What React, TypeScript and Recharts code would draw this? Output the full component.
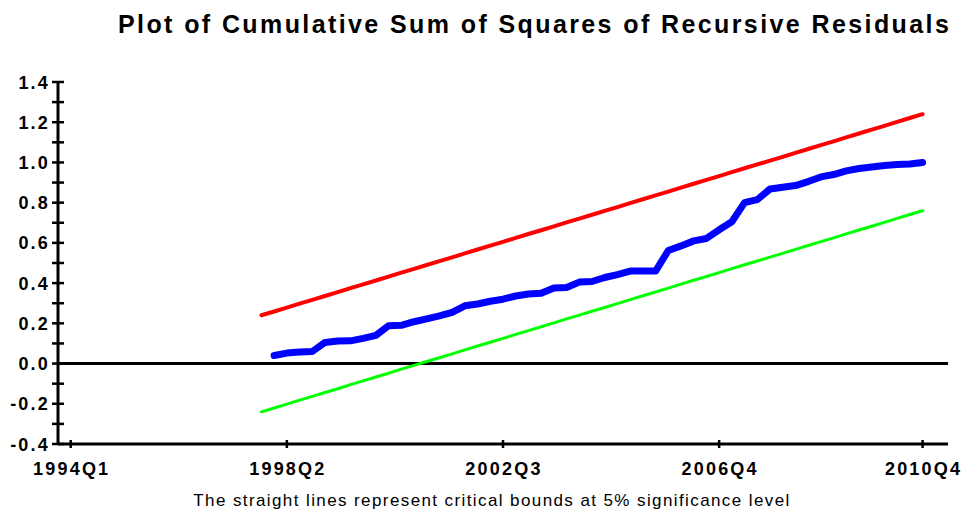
import React from 'react';
import {
  LineChart,
  Line,
  XAxis,
  YAxis,
  ReferenceLine,
} from 'recharts';

// quarters run from 1994Q1 (t = 0) to 2010Q4 (t = 67)
const quarterCount = 68;
const xTickIndex = [0, 17, 34, 51, 67];
const xTickLabels = ['1994Q1', '1998Q2', '2002Q3', '2006Q4', '2010Q4'];
const yTicks = [-0.4, -0.3, -0.2, -0.1, 0, 0.1, 0.2, 0.3, 0.4, 0.5, 0.6, 0.7, 0.8, 0.9, 1.0, 1.1, 1.2, 1.3, 1.4];

// critical bounds start at 1997Q4 (t = 15)
const boundStart = 15;
const upperBound = [
  0.240, 0.259, 0.278, 0.298, 0.317, 0.336, 0.355, 0.375, 0.394, 0.413,
  0.432, 0.452, 0.471, 0.490, 0.509, 0.528, 0.548, 0.567, 0.586, 0.605,
  0.625, 0.644, 0.663, 0.682, 0.702, 0.721, 0.740, 0.759, 0.778, 0.798,
  0.817, 0.836, 0.855, 0.875, 0.894, 0.913, 0.932, 0.952, 0.971, 0.990,
  1.009, 1.028, 1.048, 1.067, 1.086, 1.105, 1.125, 1.144, 1.163, 1.182,
  1.202, 1.221, 1.240,
];
const lowerBound = [
  -0.240, -0.221, -0.202, -0.182, -0.163, -0.144, -0.125, -0.105, -0.086, -0.067,
  -0.048, -0.028, -0.009, 0.010, 0.029, 0.048, 0.068, 0.087, 0.106, 0.125,
  0.145, 0.164, 0.183, 0.202, 0.222, 0.241, 0.260, 0.279, 0.298, 0.318,
  0.337, 0.356, 0.375, 0.395, 0.414, 0.433, 0.452, 0.472, 0.491, 0.510,
  0.529, 0.548, 0.568, 0.587, 0.606, 0.625, 0.645, 0.664, 0.683, 0.702,
  0.722, 0.741, 0.760,
];

// CUSUMSQ statistic starts at 1998Q1 (t = 16)
const cusumStart = 16;
const cusumsq = [
  0.040, 0.052, 0.058, 0.060, 0.105, 0.112, 0.113, 0.125, 0.140, 0.188,
  0.190, 0.208, 0.222, 0.237, 0.255, 0.287, 0.296, 0.310, 0.320, 0.336,
  0.346, 0.350, 0.376, 0.378, 0.405, 0.408, 0.428, 0.442, 0.460, 0.460,
  0.460, 0.562, 0.585, 0.610, 0.622, 0.665, 0.705, 0.800, 0.815, 0.868,
  0.877, 0.885, 0.905, 0.928, 0.940, 0.958, 0.970, 0.977, 0.985, 0.990,
  0.992, 1.000,
];

const data = Array.from({ length: quarterCount }, (_, t) => ({
  t,
  upper: t >= boundStart ? upperBound[t - boundStart] : null,
  lower: t >= boundStart ? lowerBound[t - boundStart] : null,
  cusum: t >= cusumStart ? cusumsq[t - cusumStart] : null,
}));

const tickFont = {
  fontFamily: '"Liberation Sans", Arial, sans-serif',
  fontWeight: 'bold' as const,
  fontSize: 18,
  letterSpacing: 2.2,
};

const YTick = (props: any) => {
  const { x, y, payload } = props;
  const v = payload.value;
  const major = Math.round(v * 10) % 2 === 0;
  return (
    <g>
      <line x1={x - 6} x2={x + 6} y1={y} y2={y} stroke="#000" strokeWidth={2.5} />
      {major && (
        <text x={x - 8} y={y} dy={6.5} textAnchor="end" fill="#000" style={tickFont}>
          {v.toFixed(1)}
        </text>
      )}
    </g>
  );
};

const XTick = (props: any) => {
  const { x, y, payload } = props;
  const i = xTickIndex.indexOf(payload.value);
  return (
    <g>
      <line x1={x} x2={x} y1={y - 4} y2={y + 4} stroke="#000" strokeWidth={2.5} />
      <text x={x + 1} y={y} dy={31} textAnchor="middle" fill="#000" style={tickFont}>
        {xTickLabels[i]}
      </text>
    </g>
  );
};

export default function App() {
  return (
    <div style={{ position: 'absolute', left: 0, top: 0, width: 962, height: 514, background: '#fff' }}>
      <LineChart
        width={962}
        height={514}
        data={data}
        margin={{ top: 82, right: 14, bottom: 40, left: 8 }}
      >
        <XAxis
          dataKey="t"
          type="number"
          domain={[-1, 69]}
          ticks={xTickIndex}
          interval={0}
          tickSize={0}
          tickMargin={0}
          height={30}
          tick={<XTick />}
          axisLine={{ stroke: '#000', strokeWidth: 3 }}
          tickLine={false}
        />
        <YAxis
          type="number"
          domain={[-0.4, 1.4]}
          ticks={yTicks}
          interval={0}
          tickSize={0}
          tickMargin={0}
          width={50}
          tick={<YTick />}
          axisLine={{ stroke: '#000', strokeWidth: 3 }}
          tickLine={false}
        />
        <ReferenceLine y={0} stroke="#000" strokeWidth={3} />
        <Line
          dataKey="upper"
          stroke="#ff0000"
          strokeWidth={4}
          dot={false}
          strokeLinecap="round"
          strokeLinejoin="round"
          isAnimationActive={false}
        />
        <Line
          dataKey="lower"
          stroke="#00ff00"
          strokeWidth={3}
          dot={false}
          strokeLinecap="round"
          strokeLinejoin="round"
          isAnimationActive={false}
        />
        <Line
          dataKey="cusum"
          stroke="#0000ff"
          strokeWidth={7}
          dot={false}
          strokeLinecap="round"
          strokeLinejoin="round"
          isAnimationActive={false}
        />
      </LineChart>
      <svg
        width={962}
        height={514}
        style={{ position: 'absolute', left: 0, top: 0, pointerEvents: 'none' }}
      >
        <text
          x={118}
          y={33}
          fill="#000"
          style={{
            fontFamily: '"Liberation Sans", Arial, sans-serif',
            fontWeight: 'bold',
            fontSize: 25,
            letterSpacing: 2.4,
          }}
        >
          Plot of Cumulative Sum of Squares of Recursive Residuals
        </text>
        <text
          x={492}
          y={506}
          textAnchor="middle"
          fill="#000"
          style={{
            fontFamily: '"Liberation Sans", Arial, sans-serif',
            fontSize: 17,
            letterSpacing: 1.4,
          }}
        >
          The straight lines represent critical bounds at 5% significance level
        </text>
      </svg>
    </div>
  );
}
